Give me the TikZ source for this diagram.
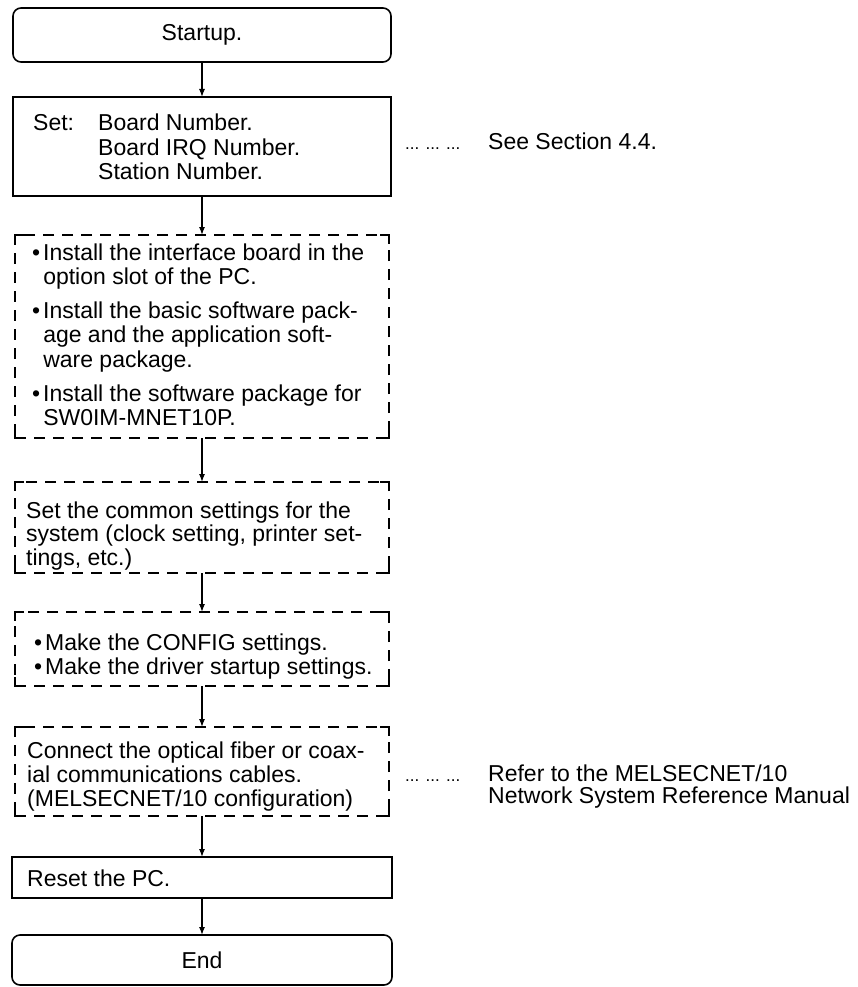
\documentclass[tikz,border=0pt]{standalone}
\usepackage{fontspec}
\setmainfont{Liberation Sans}
\usetikzlibrary{arrows.meta}
\newcommand\bodyfont{\fontsize{23}{24.5}\selectfont}
\newcommand\leaderdots{{\fontsize{17}{17}\selectfont ... ... ...}}
% solid L-shaped corners on a dashed box
\newcommand\boxcorners[1]{%
  \draw[solid,line width=1.6pt]
    ([xshift=9pt]#1.north west) -- (#1.north west) -- ([yshift=-9pt]#1.north west)
    ([xshift=-9pt]#1.north east) -- (#1.north east) -- ([yshift=-9pt]#1.north east)
    ([xshift=9pt]#1.south west) -- (#1.south west) -- ([yshift=9pt]#1.south west)
    ([xshift=-9pt]#1.south east) -- (#1.south east) -- ([yshift=9pt]#1.south east);}
\begin{document}
\begin{tikzpicture}[x=1pt,y=-1pt,
  box/.style={draw,line width=1.6pt,outer sep=0pt,inner sep=0pt},
  roundbox/.style={box,rounded corners=8pt,font=\bodyfont},
  dbox/.style={box,dash pattern=on 11pt off 8pt},
  lbl/.style={inner sep=0pt,anchor=base west,font=\bodyfont},
  flow/.style={line width=1.2pt,-{Latex[length=8pt,width=6pt]}}]
\useasboundingbox (0,0) rectangle (858,987);

% boxes of the flow
\node[roundbox,minimum width=378pt,minimum height=54pt] (start) at (202,35) {Startup.};
\node[box,minimum width=378pt,minimum height=99pt] (set) at (202,146.5) {};
\node[dbox,minimum width=374pt,minimum height=203pt] (d1) at (202,336.5) {};
\node[dbox,minimum width=374pt,minimum height=91pt] (d2) at (202,527.5) {};
\node[dbox,minimum width=374pt,minimum height=74pt] (d3) at (202,649) {};
\node[dbox,minimum width=374pt,minimum height=89pt] (d4) at (202,771.5) {};
\node[box,minimum width=380pt,minimum height=41pt] (reset) at (202,877.5) {};
\node[roundbox,minimum width=380pt,minimum height=50pt] (end) at (202,960) {End};

\boxcorners{d1}
\boxcorners{d2}
\boxcorners{d3}
\boxcorners{d4}

% texts inside the boxes
\node[lbl] (setkey) at (33,131) {Set:};
\node[lbl] (setlist) at (98,131) {\begin{tabular}[t]{@{}l@{}}Board Number.\\Board IRQ Number.\\Station Number.\end{tabular}};

\node[lbl] (i1) at (32,260) {\begin{tabular}[t]{@{}l@{\hspace{3pt}}l@{}}•&Install the interface board in the\\&option slot of the PC.\end{tabular}};
\node[lbl] (i2) at (32,318) {\begin{tabular}[t]{@{}l@{\hspace{3pt}}l@{}}•&Install the basic software pack-\\&age and the application soft-\\&ware package.\end{tabular}};
\node[lbl] (i3) at (32,401) {\begin{tabular}[t]{@{}l@{\hspace{3pt}}l@{}}•&Install the software package for\\&SW0IM-MNET10P.\end{tabular}};

\node[lbl] (common) at (26,518) {\fontsize{23}{23.5}\selectfont\begin{tabular}[t]{@{}l@{}}Set the common settings for the\\system (clock setting, printer set-\\tings, etc.)\end{tabular}};

\node[lbl] (cfg) at (34,650) {\begin{tabular}[t]{@{}l@{\hspace{3pt}}l@{}}•&Make the CONFIG settings.\\•&Make the driver startup settings.\end{tabular}};

\node[lbl] (cable) at (27,758) {\fontsize{23}{24}\selectfont\begin{tabular}[t]{@{}l@{}}Connect the optical fiber or coax-\\ial communications cables.\\(MELSECNET/10 configuration)\end{tabular}};

\node[lbl] (resettxt) at (27,886) {Reset the PC.};

% side references
\node[inner sep=0pt,anchor=base west] (dots1) at (405,150) {\leaderdots};
\node[lbl] (see) at (488,150) {See Section 4.4.};
\node[inner sep=0pt,anchor=base west] (dots2) at (405,781) {\leaderdots};
\node[lbl] (refer) at (488,781) {\fontsize{23}{19}\selectfont\begin{tabular}[t]{@{}l@{}}Refer to the MELSECNET/10\\Network System Reference Manual\end{tabular}};

% connectors
\draw[flow] (start) -- (set);
\draw[flow] (set) -- (d1);
\draw[flow] (d1) -- (d2);
\draw[flow] (d2) -- (d3);
\draw[flow] (d3) -- (d4);
\draw[flow] (d4) -- (reset);
\draw[flow] (reset) -- (end);
\end{tikzpicture}
\end{document}
